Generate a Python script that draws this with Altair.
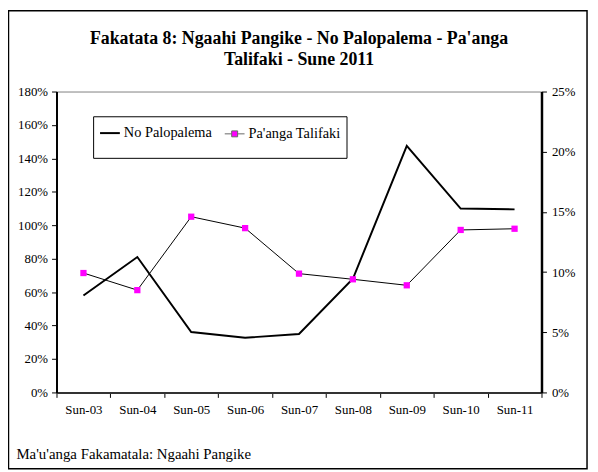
import altair as alt
import pandas as pd

months = ["Sun-03", "Sun-04", "Sun-05", "Sun-06", "Sun-07", "Sun-08", "Sun-09", "Sun-10", "Sun-11"]
series_names = ["No Palopalema", "Pa'anga Talifaki"]
no_palopalema = [0.58, 0.81, 0.361, 0.327, 0.35, 0.68, 1.475, 1.10, 1.095]
paanga_talifaki = [0.0992, 0.085, 0.146, 0.1365, 0.0987, 0.094, 0.089, 0.135, 0.136]
title_lines = ["Fakatata 8: Ngaahi Pangike - No Palopalema - Pa'anga", "Talifaki - Sune 2011"]
source_text = "Ma'u'anga Fakamatala: Ngaahi Pangike"

FONT = "Liberation Serif"
W, H = 490, 304

df_np = pd.DataFrame({"month": months, "value": no_palopalema, "series": series_names[0]})
df_pt = pd.DataFrame({"month": months, "value": paanga_talifaki, "series": series_names[1]})

x_enc = alt.X(
    "month:N", sort=months, bandPosition=0.5,
    scale=alt.Scale(type="band", paddingInner=0, paddingOuter=0),
    axis=alt.Axis(
        title=source_text, titleX=-41, titleY=67, titleAlign="left", titleAnchor="start",
        titleBaseline="alphabetic", titleFont=FONT, titleFontSize=15, titleFontWeight="normal",
        titleColor="black",
        tickBand="extent", labelAngle=0, labelFont=FONT, labelFontSize=13, labelColor="black",
        labelPadding=6, tickSize=5, tickColor="black", domainColor="#333333", domainWidth=2,
        grid=False,
    ),
)

leg = alt.Legend(title=None)
sym_line = "M-1,0H1M0,-1.5M0,1.5"
sym_sq = "M-1,0H-0.3M0.3,0H1M-0.3,-0.3H0.3V0.3H-0.3ZM0,-1.5M0,1.5"

left_line = alt.Chart(df_np).mark_line().encode(
    x=x_enc,
    y=alt.Y(
        "value:Q",
        scale=alt.Scale(domain=[0, 1.8], nice=False),
        axis=alt.Axis(
            title=None, format=".0%", values=[0, 0.2, 0.4, 0.6, 0.8, 1.0, 1.2, 1.4, 1.6, 1.8],
            labelFont=FONT, labelFontSize=13, labelColor="black", labelPadding=4,
            tickSize=5, tickColor="black", domainColor="black", domainWidth=2, grid=False,
        ),
    ),
    color=alt.Color("series:N", scale=alt.Scale(domain=series_names, range=["black", "#666666"]), legend=leg),
    strokeWidth=alt.StrokeWidth("series:N", scale=alt.Scale(type="ordinal", domain=series_names, range=[2, 1]), legend=leg),
)

legend_only = alt.Chart(df_pt).transform_filter("false").mark_point(filled=True).encode(
    shape=alt.Shape("series:N", scale=alt.Scale(domain=series_names, range=[sym_line, sym_sq]), legend=leg),
    fill=alt.Fill("series:N", scale=alt.Scale(domain=series_names, range=["transparent", "#FF00FF"]), legend=leg),
)

y_right = alt.Y(
    "value:Q",
    scale=alt.Scale(domain=[0, 0.25], nice=False),
    axis=alt.Axis(
        title=None, orient="right", format=".0%", values=[0, 0.05, 0.10, 0.15, 0.20, 0.25],
        labelFont=FONT, labelFontSize=13, labelColor="black", labelPadding=5,
        tickSize=5, tickColor="black", domainColor="black", domainWidth=2.5, grid=False,
    ),
)

right_line = alt.Chart(df_pt).mark_line(color="black", strokeWidth=1).encode(x=x_enc, y=y_right)
right_pts = alt.Chart(df_pt).mark_square(color="#FF00FF", size=40, opacity=1).encode(x=x_enc, y=y_right)

frame = alt.Chart(pd.DataFrame({"a": [0]})).mark_rect(
    fill="transparent", stroke="black", strokeWidth=1.5
).encode(
    x=alt.value(-48.5), x2=alt.value(536), y=alt.value(-81.5), y2=alt.value(381)
)

chart = alt.layer(
    left_line, legend_only, alt.layer(right_line, right_pts), frame
).resolve_scale(y="independent").properties(
    width=W, height=H,
    background="white",
    autosize=alt.AutoSizeParams(type="none"),
    padding={"left": 49, "top": 82, "right": 49, "bottom": 78},
    title=alt.TitleParams(
        text=title_lines, font=FONT, fontSize=18, fontWeight="bold", color="black",
        anchor="middle", offset=0, dy=59, lineHeight=21,
    ),
).configure_view(
    stroke="#808080", strokeWidth=1
).configure_legend(
    orient="none", legendX=37, legendY=25, direction="horizontal", columns=2,
    padding=6, strokeColor="black", fillColor="white",
    labelFont=FONT, labelFontSize=14.5, labelColor="black", labelOffset=3, labelLimit=0,
    columnPadding=11, symbolSize=400, symbolOpacity=1,
)

chart.save("out.html", embed_options={"renderer": "svg", "actions": False})
